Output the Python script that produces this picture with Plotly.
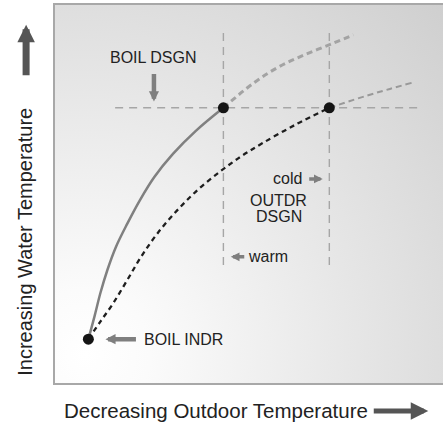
import base64
import plotly.graph_objects as go

# ---- data (arbitrary units, 0-100 on each axis) ----
boil_indr = (8.6, 11.6)
design_pts_x = [43.4, 70.7]
design_pts_y = [72.8, 72.8]

warm_curve_x = [8.6, 10.2, 11.7, 13.5, 15.7, 18.6, 21.9, 25.6, 30.4, 36.3, 43.4]
warm_curve_y = [11.6, 17.7, 23.8, 29.9, 36.0, 42.1, 48.4, 54.5, 60.6, 66.7, 72.8]

cold_curve_x = [8.6, 11.6, 15.0, 18.6, 22.2, 26.5, 31.6, 36.8, 42.5, 47.9, 53.4, 61.9, 70.7]
cold_curve_y = [11.6, 16.1, 21.1, 27.2, 33.4, 39.7, 45.8, 51.1, 55.9, 59.9, 63.4, 68.3, 72.8]

warm_ext_x = [43.4, 51.1, 57.1, 63.1, 70.0, 76.9]
warm_ext_y = [72.8, 79.3, 83.3, 86.3, 89.2, 92.1]

cold_ext_x = [70.7, 80.3, 86.3, 91.9]
cold_ext_y = [72.8, 76.0, 77.8, 79.4]

vline_x = [43.4, 70.7]
vline_y = [31.2, 94.2]
hline_y = 72.8
hline_x = [15.5, 94.8]

x_title = "Decreasing Outdoor Temperature"
y_title = "Increasing Water Temperature"

FONT = "Liberation Sans, Arial, Helvetica, sans-serif"
TXT = "#222222"
ARR = "#7f7f7f"
DARK = "#555555"

fig = go.Figure()

# reference dashed lines
for vx in vline_x:
    fig.add_trace(go.Scatter(x=[vx, vx], y=vline_y, mode="lines",
                             line=dict(color="#a6a6a6", width=1.4, dash="8px,6px"),
                             hoverinfo="skip", showlegend=False))
fig.add_trace(go.Scatter(x=hline_x, y=[hline_y, hline_y], mode="lines",
                         line=dict(color="#a6a6a6", width=1.4, dash="8px,6px"),
                         hoverinfo="skip", showlegend=False))

# extensions
fig.add_trace(go.Scatter(x=warm_ext_x, y=warm_ext_y, mode="lines", line_shape="spline",
                         line=dict(color="#a3a3a3", width=3, dash="6px,4px"),
                         showlegend=False))
fig.add_trace(go.Scatter(x=cold_ext_x, y=cold_ext_y, mode="lines", line_shape="spline",
                         line=dict(color="#999999", width=2, dash="6px,4px"),
                         showlegend=False))

# curves
fig.add_trace(go.Scatter(x=warm_curve_x, y=warm_curve_y, mode="lines", line_shape="spline",
                         line=dict(color="#808080", width=2.5), showlegend=False))
fig.add_trace(go.Scatter(x=cold_curve_x, y=cold_curve_y, mode="lines", line_shape="spline",
                         line=dict(color="#1e1e1e", width=2.3, dash="5px,4px"),
                         showlegend=False))

# dots
fig.add_trace(go.Scatter(x=design_pts_x + [boil_indr[0]], y=design_pts_y + [boil_indr[1]],
                         mode="markers", marker=dict(color="#151515", size=11),
                         showlegend=False))

ann = []
def text(x, y, s, size=16, xref="x", yref="y", angle=0):
    ann.append(dict(x=x, y=y, xref=xref, yref=yref, text=s, showarrow=False,
                    font=dict(family=FONT, size=size, color=TXT), textangle=angle,
                    xanchor="center", yanchor="middle"))

def arrow(x, y, ax, ay, width, size, color=ARR, xref="x", yref="y"):
    ann.append(dict(x=x, y=y, xref=xref, yref=yref, ax=ax, ay=ay, axref="pixel", ayref="pixel",
                    text="", showarrow=True, arrowhead=2, arrowwidth=width,
                    arrowsize=size, arrowcolor=color, standoff=0))

text(25.5, 86.0, "BOIL DSGN")
arrow(25.5, 74.5, 0, -29, 4.5, 0.45)

text(60.0, 54.2, "cold")
arrow(69.0, 54.0, -15, 0, 3.5, 0.5)

text(57.7, 48.3, "OUTDR")
text(57.7, 44.1, "DSGN")

text(54.8, 33.4, "warm")
arrow(45.3, 33.4, 15, 0, 3.5, 0.5)

text(33.0, 11.6, "BOIL INDR")
arrow(13.0, 11.6, 32, 0, 4.5, 0.45)

# axis titles + big arrows
text(0.415, -0.074, x_title, size=20.5, xref="paper", yref="paper")
arrow(0.962, -0.074, -56, 0, 5, 0.7, color=DARK, xref="paper", yref="paper")
text(-0.078, 0.373, y_title, size=20, xref="paper", yref="paper", angle=-90)
arrow(-0.0745, 0.948, 0, 52, 7, 0.5, color=DARK, xref="paper", yref="paper")

svg = ('<svg xmlns="http://www.w3.org/2000/svg" width="388" height="378" viewBox="0 0 388 378" '
       'preserveAspectRatio="none"><defs><radialGradient id="g" gradientUnits="userSpaceOnUse" '
       'cx="30" cy="350" r="540"><stop offset="0" stop-color="#ffffff"/>'
       '<stop offset="0.12" stop-color="#fbfbfb"/><stop offset="1" stop-color="#cbcbcb"/>'
       '</radialGradient></defs><rect width="388" height="378" fill="url(#g)"/></svg>')
src = "data:image/svg+xml;base64," + base64.b64encode(svg.encode()).decode()

fig.update_layout(
    width=443, height=425,
    margin=dict(l=55, r=0, t=5, b=42),
    paper_bgcolor="white", plot_bgcolor="rgba(0,0,0,0)",
    annotations=ann,
    images=[dict(source=src, xref="paper", yref="paper", x=0, y=1, sizex=1, sizey=1,
                 sizing="stretch", xanchor="left", yanchor="top", layer="below")],
    xaxis=dict(range=[0, 100], showgrid=False, zeroline=False, showticklabels=False,
               showline=True, linecolor="#a8a8a8", linewidth=1.5, mirror=True, ticks=""),
    yaxis=dict(range=[0, 100], showgrid=False, zeroline=False, showticklabels=False,
               showline=True, linecolor="#a8a8a8", linewidth=1.5, ticks=""),
)

fig.write_html("out.html", config={"displayModeBar": False},
               post_script="document.body.style.margin='0';document.body.style.overflow='hidden';")
